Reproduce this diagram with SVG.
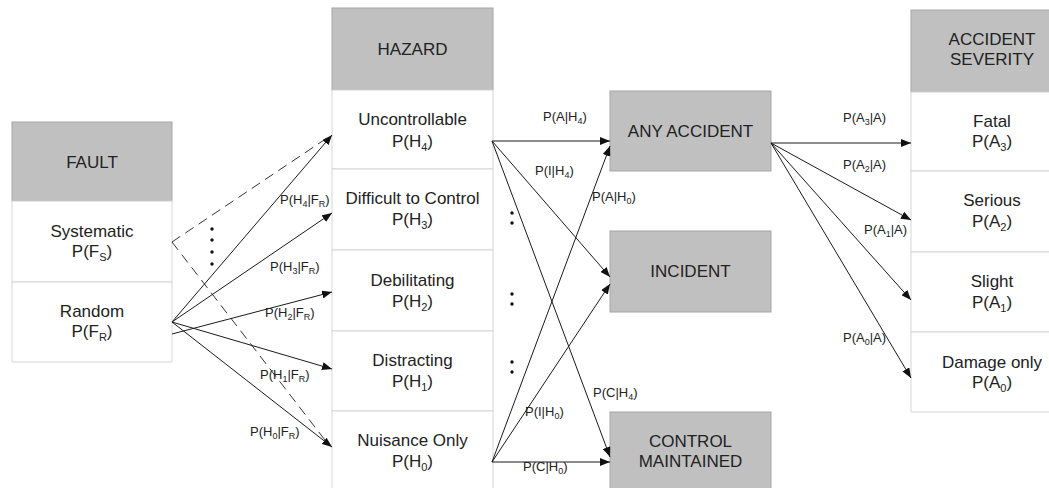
<svg xmlns="http://www.w3.org/2000/svg" width="1049" height="488" viewBox="0 0 1049 488">
<defs>
<marker id="ah" markerUnits="userSpaceOnUse" markerWidth="10" markerHeight="8" refX="10" refY="4" orient="auto"><path d="M0,0 L10,4 L0,8 z" fill="#111"/></marker>
<style>
.hd{fill:#c0c0c0;stroke:#a6a6a6;stroke-width:1}
.cell{fill:#fff;stroke:#d6d6d6;stroke-width:1}
.t{font-family:"Liberation Sans",Arial,sans-serif;font-size:17px;fill:#222;text-anchor:middle}
.l{font-family:"Liberation Sans",Arial,sans-serif;font-size:13px;fill:#222}
.s{font-size:9px}
.ss{font-size:11px}
.c{stroke:#1a1a1a;stroke-width:1;fill:none;marker-end:url(#ah)}
.d{stroke:#333;stroke-width:1;fill:none;stroke-dasharray:10,6}
.dot{fill:#111}
</style>
</defs>
<rect width="1049" height="488" fill="#fff"/>

<g id="fault">
<rect class="hd" x="12" y="122" width="160" height="79"/>
<text class="t" x="92" y="168">FAULT</text>
</g>
<g id="systematic">
<rect class="cell" x="12" y="201" width="160" height="81"/>
<text class="t" x="92" y="237">Systematic</text>
<text class="t" x="92" y="257">P(F<tspan class="ss" dy="4">S</tspan><tspan dy="-4">)</tspan></text>
</g>
<g id="random">
<rect class="cell" x="12" y="282" width="160" height="80"/>
<text class="t" x="92" y="317">Random</text>
<text class="t" x="92" y="337">P(F<tspan class="ss" dy="4">R</tspan><tspan dy="-4">)</tspan></text>
</g>

<g id="hazard">
<rect class="hd" x="332" y="8" width="161" height="82"/>
<text class="t" x="412.5" y="55">HAZARD</text>
</g>
<g id="h4">
<rect class="cell" x="332" y="90" width="161" height="79"/>
<text class="t" x="412.5" y="125">Uncontrollable</text>
<text class="t" x="412.5" y="147">P(H<tspan class="ss" dy="4">4</tspan><tspan dy="-4">)</tspan></text>
</g>
<g id="h3">
<rect class="cell" x="332" y="169" width="161" height="81"/>
<text class="t" x="412.5" y="204">Difficult to Control</text>
<text class="t" x="412.5" y="225">P(H<tspan class="ss" dy="4">3</tspan><tspan dy="-4">)</tspan></text>
</g>
<g id="h2">
<rect class="cell" x="332" y="250" width="161" height="81"/>
<text class="t" x="412.5" y="286">Debilitating</text>
<text class="t" x="412.5" y="307">P(H<tspan class="ss" dy="4">2</tspan><tspan dy="-4">)</tspan></text>
</g>
<g id="h1">
<rect class="cell" x="332" y="331" width="161" height="80"/>
<text class="t" x="412.5" y="366">Distracting</text>
<text class="t" x="412.5" y="387">P(H<tspan class="ss" dy="4">1</tspan><tspan dy="-4">)</tspan></text>
</g>
<g id="h0">
<rect class="cell" x="332" y="411" width="161" height="80"/>
<text class="t" x="412.5" y="446">Nuisance Only</text>
<text class="t" x="412.5" y="467">P(H<tspan class="ss" dy="4">0</tspan><tspan dy="-4">)</tspan></text>
</g>

<g id="any-accident">
<rect class="hd" x="610" y="91" width="161" height="80"/>
<text class="t" x="690.5" y="137">ANY ACCIDENT</text>
</g>
<g id="incident">
<rect class="hd" x="610" y="231" width="161" height="81"/>
<text class="t" x="690.5" y="277">INCIDENT</text>
</g>
<g id="control-maintained">
<rect class="hd" x="610" y="412" width="161" height="80"/>
<text class="t" x="690.5" y="447">CONTROL</text>
<text class="t" x="690.5" y="467">MAINTAINED</text>
</g>

<g id="severity">
<rect class="hd" x="911" y="10" width="162" height="82"/>
<text class="t" x="992" y="45">ACCIDENT</text>
<text class="t" x="992" y="65">SEVERITY</text>
</g>
<g id="a3">
<rect class="cell" x="911" y="92" width="162" height="79"/>
<text class="t" x="992" y="127">Fatal</text>
<text class="t" x="992" y="147">P(A<tspan class="ss" dy="4">3</tspan><tspan dy="-4">)</tspan></text>
</g>
<g id="a2">
<rect class="cell" x="911" y="171" width="162" height="81"/>
<text class="t" x="992" y="206">Serious</text>
<text class="t" x="992" y="227">P(A<tspan class="ss" dy="4">2</tspan><tspan dy="-4">)</tspan></text>
</g>
<g id="a1">
<rect class="cell" x="911" y="252" width="162" height="80"/>
<text class="t" x="992" y="287">Slight</text>
<text class="t" x="992" y="308">P(A<tspan class="ss" dy="4">1</tspan><tspan dy="-4">)</tspan></text>
</g>
<g id="a0">
<rect class="cell" x="911" y="332" width="162" height="80"/>
<text class="t" x="992" y="368">Damage only</text>
<text class="t" x="992" y="388">P(A<tspan class="ss" dy="4">0</tspan><tspan dy="-4">)</tspan></text>
</g>

<g id="connectors">
<line class="d" x1="172" y1="242" x2="330" y2="136"/>
<line class="d" x1="172" y1="242" x2="328" y2="444"/>
<line class="c" x1="172" y1="322" x2="332" y2="135"/>
<line class="c" x1="172" y1="322" x2="332" y2="213"/>
<line class="c" x1="172" y1="334" x2="332" y2="292"/>
<line class="c" x1="172" y1="322" x2="332" y2="369"/>
<line class="c" x1="172" y1="322" x2="332" y2="447"/>

<line class="c" x1="492" y1="141" x2="610" y2="141"/>
<line class="c" x1="492" y1="141" x2="610" y2="277"/>
<line class="c" x1="492" y1="141" x2="610" y2="457"/>
<line class="c" x1="492" y1="462" x2="610" y2="146"/>
<line class="c" x1="492" y1="462" x2="610" y2="284"/>
<line class="c" x1="492" y1="462" x2="610" y2="462"/>

<line class="c" x1="771" y1="143" x2="911" y2="143"/>
<line class="c" x1="771" y1="143" x2="911" y2="220"/>
<line class="c" x1="771" y1="143" x2="911" y2="300"/>
<line class="c" x1="771" y1="143" x2="911" y2="378"/>

<circle class="dot" cx="212" cy="229" r="1.7"/>
<circle class="dot" cx="212" cy="240" r="1.7"/>
<circle class="dot" cx="212" cy="252" r="1.7"/>
<circle class="dot" cx="212" cy="264" r="1.7"/>
<circle class="dot" cx="512" cy="213" r="1.7"/>
<circle class="dot" cx="512" cy="223" r="1.7"/>
<circle class="dot" cx="512" cy="294" r="1.7"/>
<circle class="dot" cx="512" cy="304" r="1.7"/>
<circle class="dot" cx="512" cy="362" r="1.7"/>
<circle class="dot" cx="512" cy="372" r="1.7"/>

<text class="l" x="280" y="204">P(H<tspan class="s" dy="3">4</tspan><tspan dy="-3">|F</tspan><tspan class="s" dy="3">R</tspan><tspan dy="-3">)</tspan></text>
<text class="l" x="270" y="271">P(H<tspan class="s" dy="3">3</tspan><tspan dy="-3">|F</tspan><tspan class="s" dy="3">R</tspan><tspan dy="-3">)</tspan></text>
<text class="l" x="265" y="317">P(H<tspan class="s" dy="3">2</tspan><tspan dy="-3">|F</tspan><tspan class="s" dy="3">R</tspan><tspan dy="-3">)</tspan></text>
<text class="l" x="260" y="379">P(H<tspan class="s" dy="3">1</tspan><tspan dy="-3">|F</tspan><tspan class="s" dy="3">R</tspan><tspan dy="-3">)</tspan></text>
<text class="l" x="250" y="436">P(H<tspan class="s" dy="3">0</tspan><tspan dy="-3">|F</tspan><tspan class="s" dy="3">R</tspan><tspan dy="-3">)</tspan></text>

<text class="l" x="543" y="121">P(A|H<tspan class="s" dy="3">4</tspan><tspan dy="-3">)</tspan></text>
<text class="l" x="535" y="175">P(I|H<tspan class="s" dy="3">4</tspan><tspan dy="-3">)</tspan></text>
<text class="l" x="592" y="201">P(A|H<tspan class="s" dy="3">0</tspan><tspan dy="-3">)</tspan></text>
<text class="l" x="593" y="397">P(C|H<tspan class="s" dy="3">4</tspan><tspan dy="-3">)</tspan></text>
<text class="l" x="525" y="416">P(I|H<tspan class="s" dy="3">0</tspan><tspan dy="-3">)</tspan></text>
<text class="l" x="523" y="471">P(C|H<tspan class="s" dy="3">0</tspan><tspan dy="-3">)</tspan></text>

<text class="l" x="843" y="122">P(A<tspan class="s" dy="3">3</tspan><tspan dy="-3">|A)</tspan></text>
<text class="l" x="843" y="169">P(A<tspan class="s" dy="3">2</tspan><tspan dy="-3">|A)</tspan></text>
<text class="l" x="864" y="234">P(A<tspan class="s" dy="3">1</tspan><tspan dy="-3">|A)</tspan></text>
<text class="l" x="843" y="342">P(A<tspan class="s" dy="3">0</tspan><tspan dy="-3">|A)</tspan></text>
</g>
</svg>
